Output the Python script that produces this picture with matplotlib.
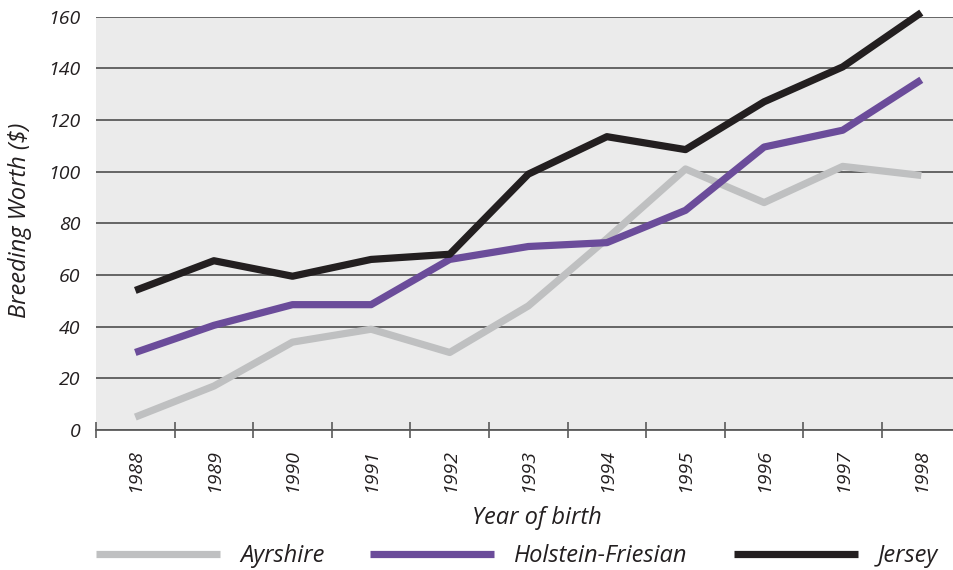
import matplotlib
matplotlib.use("Agg")
import matplotlib.pyplot as plt
import numpy as np

# Data
years = ["1988", "1989", "1990", "1991", "1992", "1993",
         "1994", "1995", "1996", "1997", "1998"]
ayrshire = [5, 17, 34, 39, 30, 48, 74, 101, 88, 102, 98.5]
holstein = [30, 40.5, 48.5, 48.5, 66, 71, 72.5, 85, 109.5, 116, 135.5]
jersey = [54, 65.5, 59.5, 66, 68, 99, 113.5, 108.5, 127, 140.5, 161.5]

plt.rcParams["font.family"] = ["Open Sans", "DejaVu Sans"]
plt.rcParams["font.style"] = "italic"

text_color = "#231f20"

fig = plt.figure(figsize=(9.54, 5.70), dpi=100)
ax = fig.add_axes([96 / 954, 1 - 430 / 570, 1 - 96 / 954, (430 - 16.5) / 570])
ax.set_facecolor("#ebebeb")

x = np.arange(len(years))
ax.plot(x, ayrshire, color="#bfc0c1", lw=5.2, label="Ayrshire",
        solid_capstyle="butt", zorder=3, clip_on=False)
ax.plot(x, holstein, color="#6b4c9a", lw=5.2, label="Holstein-Friesian",
        solid_capstyle="butt", zorder=3, clip_on=False)
ax.plot(x, jersey, color="#231f20", lw=5.2, label="Jersey",
        solid_capstyle="butt", zorder=3, clip_on=False)

ax.set_ylim(0, 160)
ax.set_xlim(-0.5, (954 - 96) / 78.6 - 0.5)
ax.set_yticks(np.arange(0, 161, 20))
ax.yaxis.grid(True, color="#5a5a5a", lw=1.3)
ax.set_axisbelow(True)

for s in ["top", "right", "left"]:
    ax.spines[s].set_visible(False)
ax.spines["bottom"].set_color("#5a5a5a")
ax.spines["bottom"].set_linewidth(1.3)

ax.set_xticks(x)
ax.set_xticklabels(years, rotation=90)
ax.set_xticks(np.arange(len(years)) - 0.5, minor=True)
ax.tick_params(axis="x", which="major", length=0, pad=14,
               labelsize=14, labelcolor=text_color)
ax.tick_params(axis="x", which="minor", direction="inout", length=12,
               width=1.2, color="#5a5a5a")
ax.tick_params(axis="y", length=0, pad=11, labelsize=14, labelcolor=text_color)

# axis titles
fig.text(20 / 954, 1 - 220 / 570, "Breeding Worth ($)", rotation=90,
         ha="center", va="center", fontsize=17, color=text_color)
fig.text(537 / 954, 1 - 518 / 570, "Year of birth", ha="center", va="center",
         fontsize=17, color=text_color)

leg = fig.legend(loc="center left", bbox_to_anchor=(96 / 954, 1 - 556 / 570),
                 ncol=3, frameon=False, fontsize=17, handlelength=5.25,
                 handletextpad=0.85, columnspacing=1.95, borderpad=0,
                 borderaxespad=0)
for t in leg.get_texts():
    t.set_color(text_color)

fig.savefig("out.png", dpi=100)
